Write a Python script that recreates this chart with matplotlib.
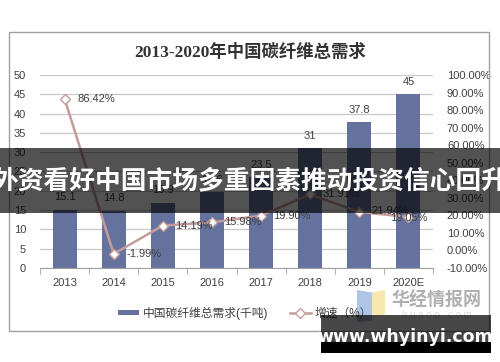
import numpy as np
import matplotlib
matplotlib.use('Agg')
import matplotlib.pyplot as plt
from matplotlib.patches import Rectangle, Polygon

plt.rcParams['font.family'] = ['Liberation Sans', 'Noto Sans CJK SC', 'DejaVu Sans']

years = ['2013', '2014', '2015', '2016', '2017', '2018', '2019', '2020E']
demand = [15.1, 14.8, 16.9, 19.6, 23.5, 31.0, 37.8, 45.0]
growth = [86.42, -1.99, 14.19, 15.98, 19.90, 31.91, 21.94, 19.05]
left_ticks = [0, 5, 10, 15, 20, 25, 30, 35, 40, 45, 50]
right_ticks = [-10, 0, 10, 20, 30, 40, 50, 60, 70, 80, 90, 100]

bar_col = '#65729e'
line_col = '#c49c9c'
txt_col = '#404040'

fig = plt.figure(figsize=(5, 3.62), dpi=100)

# outer frame of the chart
fig.add_artist(Rectangle((0.018, 0.0856), 0.96, 0.826, transform=fig.transFigure,
                         fill=False, ec='#a0a0a0', lw=1))

fig.text(0.5, 0.856, '2013-2020年中国碳纤维总需求', ha='center', va='center',
         fontsize=12.5, fontweight='bold', color='#333333',
         family=['Liberation Serif', 'Noto Sans CJK SC'])

ax = fig.add_axes([0.08, 0.2597, 0.786, 0.5331])
x = np.arange(len(years))
bars = ax.bar(x, demand, width=0.49, color=bar_col, zorder=2,
              label='中国碳纤维总需求(千吨)')
ax.set_xlim(-0.5, len(years) - 0.5)
ax.set_ylim(0, 50)
ax.set_yticks(left_ticks)
ax.yaxis.grid(True, color='#c8c8c8', lw=0.9)
ax.set_axisbelow(True)
for s in ['top', 'right', 'left']:
    ax.spines[s].set_visible(False)
ax.spines['bottom'].set_color('#a0a0a0')
ax.tick_params(axis='y', length=0, pad=10, labelsize=8, labelcolor=txt_col)
ax.set_xticks(x)
ax.set_xticklabels(years)
ax.set_xticks(np.arange(-0.5, len(years)), minor=True)
ax.tick_params(axis='x', which='major', length=0, pad=7, labelsize=8, labelcolor=txt_col)
ax.tick_params(axis='x', which='minor', length=4, color='#a0a0a0')

for xi, v in zip(x, demand):
    ax.annotate(f'{v:g}', (xi, v), xytext=(0, 9), textcoords='offset points',
                ha='center', va='center', fontsize=8, color=txt_col)

ax2 = ax.twinx()
ax2.set_ylim(-10, 100)
ax2.set_yticks(right_ticks)
ax2.set_yticklabels([f'{v:.2f}%' for v in right_ticks])
for s in ['top', 'right', 'left', 'bottom']:
    ax2.spines[s].set_visible(False)
ax2.tick_params(axis='y', length=0, pad=10, labelsize=8, labelcolor=txt_col)
line, = ax2.plot(x, growth, color=line_col, lw=1.8, marker='D', ms=5,
                 mfc='white', mec=line_col, mew=1, label='增速（%）')

offsets = [(9, 0, 'left'), (9, 0, 'left'), (9, 0, 'left'), (9, 0, 'left'),
           (9, 0, 'left'), (9, 0, 'left'), (9, 1, 'left'), (0, -1, 'center')]
for xi, v, (dx, dy, ha) in zip(x, growth, offsets):
    ax2.annotate(f'{v:.2f}%', (xi, v), xytext=(dx, dy), textcoords='offset points',
                 ha=ha, va='center', fontsize=8, color=txt_col)

fig.legend(handles=[bars, line], loc='center', bbox_to_anchor=(0.49, 0.135), ncol=2,
           frameon=False, fontsize=8.5, handlelength=1.8, handleheight=0.4,
           columnspacing=1.8, handletextpad=0.3, labelcolor=txt_col)

# logo watermark
fig.add_artist(Polygon([(0.714, 0.199), (0.744, 0.192), (0.744, 0.113), (0.714, 0.110)],
                       closed=True, transform=fig.transFigure, fc='#7a9fd8', alpha=0.6, ec='none'))
fig.add_artist(Polygon([(0.744, 0.192), (0.770, 0.199), (0.770, 0.130), (0.744, 0.130)],
                       closed=True, transform=fig.transFigure, fc='#f3d97a', alpha=0.6, ec='none'))
fig.text(0.874, 0.171, '华经情报网', ha='center', va='center', fontsize=13,
         fontweight='bold', color='#b0b0b0', family=['Noto Sans CJK SC'])
fig.text(0.874, 0.131, 'h u a o n . c o m', ha='center', va='center', fontsize=7,
         color='#dedede')

# dark banner with headline
fig.add_artist(Rectangle((0, 0.4116), 1, 0.1796, transform=fig.transFigure,
                         fc='black', alpha=0.68, ec='none', zorder=10))
fig.text(0.5, 0.5, '外资看好中国市场多重因素推动投资信心回升', ha='center', va='center',
         fontsize=18.5, fontweight='bold', color='white', zorder=11,
         family=['Noto Sans CJK SC'])

# site watermark
fig.add_artist(Rectangle((0.642, 0.0552), 0.34, 0.0746, transform=fig.transFigure,
                         fc='black', alpha=0.72, ec='none', zorder=10))
fig.add_artist(Rectangle((0.642, 0.0249), 0.34, 0.0304, transform=fig.transFigure,
                         fc='black', ec='none', zorder=10))
fig.text(0.81, 0.069, 'www.whyinyi.com', ha='center', va='center', fontsize=12.5,
         fontweight='bold', color='white', zorder=11, family=['DejaVu Sans'])

fig.savefig('out.png', dpi=100)
